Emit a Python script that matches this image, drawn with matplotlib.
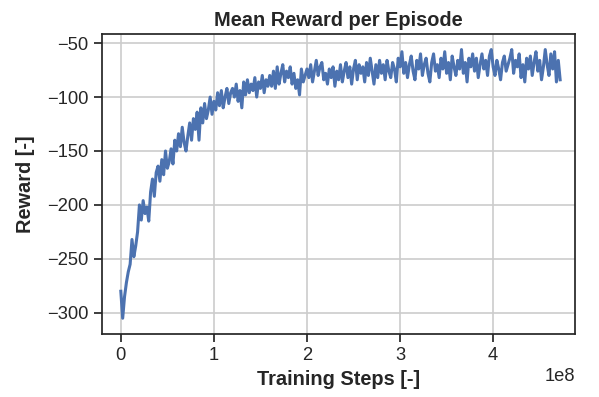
import numpy as np
import matplotlib
matplotlib.use("Agg")
import matplotlib.pyplot as plt

# mean episode reward, one value every 2e6 training steps
reward = [
    -280, -305, -285, -272, -262, -255, -232, -248, -238, -225,
    -200, -214, -196, -208, -202, -215, -188, -176, -192, -170,
    -164, -178, -158, -172, -150, -166, -160, -148, -162, -140,
    -150, -134, -146, -128, -142, -150, -136, -124, -140, -120,
    -130, -114, -140, -110, -124, -106, -120, -112, -100, -116,
    -104, -112, -96, -108, -94, -110, -100, -92, -106, -96,
    -92, -100, -88, -104, -94, -110, -86, -98, -84, -96,
    -88, -94, -82, -100, -86, -92, -80, -96, -84, -90,
    -80, -90, -76, -92, -72, -88, -78, -70, -86, -76,
    -82, -72, -88, -78, -92, -84, -98, -74, -86, -80,
    -74, -82, -70, -86, -76, -66, -80, -72, -68, -84,
    -78, -88, -74, -82, -72, -90, -76, -84, -70, -86,
    -76, -68, -82, -72, -88, -74, -66, -84, -70, -78,
    -72, -86, -68, -80, -64, -76, -88, -70, -82, -66,
    -78, -70, -84, -66, -76, -82, -68, -74, -86, -64,
    -72, -58, -78, -68, -82, -70, -62, -76, -84, -66,
    -74, -60, -80, -70, -64, -78, -86, -68, -60, -76,
    -70, -82, -64, -74, -58, -78, -68, -84, -62, -72,
    -80, -66, -74, -56, -78, -68, -86, -64, -72, -60,
    -76, -64, -82, -70, -60, -74, -66, -80, -62, -56,
    -72, -80, -66, -74, -84, -68, -62, -76, -70, -64,
    -56, -78, -66, -72, -60, -82, -70, -86, -64, -74,
    -62, -80, -68, -58, -76, -66, -84, -72, -56, -70,
    -80, -60, -74, -58, -86, -66, -84,
]
steps = np.arange(len(reward)) * 2e6

plt.rcParams["font.family"] = ["Liberation Sans", "DejaVu Sans"]
plt.rcParams["text.color"] = "#262626"
plt.rcParams["axes.labelcolor"] = "#262626"
plt.rcParams["xtick.color"] = "#262626"
plt.rcParams["ytick.color"] = "#262626"

fig = plt.figure(figsize=(5.99, 3.97), dpi=100)
ax = fig.add_axes([0.170, 0.159, 0.790, 0.755])

ax.plot(steps, reward, color="#4c72b0", linewidth=2.2)

ax.set_title("Mean Reward per Episode", fontsize=14.4, fontweight="bold")
ax.set_xlabel("Training Steps [-]", fontsize=14.4, fontweight="bold")
ax.set_ylabel("Reward [-]", fontsize=14.4, fontweight="bold", labelpad=9)

ax.set_xlim(-0.204e8, 4.88e8)
ax.set_ylim(-319.5, -41.7)
ax.set_yticks([-300, -250, -200, -150, -100, -50])
ax.grid(True, color="#cccccc", linewidth=1.2)
ax.set_axisbelow(True)
for s in ax.spines.values():
    s.set_color("#262626")
    s.set_linewidth(1.25)
ax.tick_params(labelsize=13.2, length=6, width=1.25)
ax.xaxis.get_offset_text().set_fontsize(13.2)

fig.savefig("out.png", dpi=100)
